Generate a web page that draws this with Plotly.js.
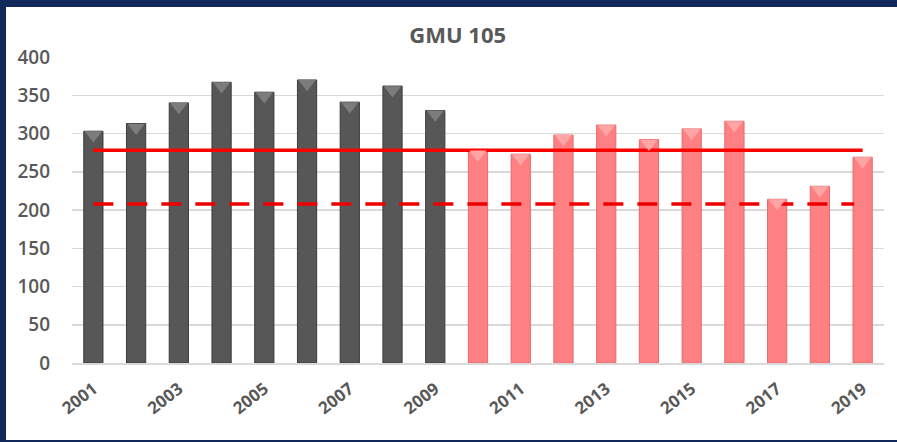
<!DOCTYPE html>
<html>
<head>
<meta charset="utf-8">
<script src="https://cdn.plot.ly/plotly-3.0.1.min.js"></script>
<style>
  html, body { margin: 0; padding: 0; background: #10295a; width: 897px; height: 442px; overflow: hidden; }
  #chart { position: absolute; left: 6px; top: 7px; width: 891px; height: 433px; background: #ffffff; }
</style>
</head>
<body>
<div id="chart"></div>
<script>
const years = [2001,2002,2003,2004,2005,2006,2007,2008,2009,2010,2011,2012,2013,2014,2015,2016,2017,2018,2019];
const counts = [303,313,340,367,354,370,341,362,330,278,273,298,311,292,306,316,214,231,269];
const periodSplit = 2010; // bars from this year on are drawn pink
const meanLine = 278;     // solid red line
const lowerLine = 208;    // dashed red line
const tickYears = [2001,2003,2005,2007,2009,2011,2013,2015,2017,2019];

const barColors = years.map(y => y < periodSplit ? '#575757' : '#ff8082');
const edgeColors = years.map(y => y < periodSplit ? '#3c3c3c' : '#e86a6c');
const capColors = years.map(y => y < periodSplit ? '#7c7c7c' : '#ffa5a6');

const data = [
  {
    type: 'bar', x: years, y: counts,
    marker: { color: barColors, line: { color: edgeColors, width: 1 } },
    hoverinfo: 'x+y', showlegend: false
  },
  {
    // bevelled cap on each bar top (drawn on a slightly shifted overlay axis)
    type: 'scatter', mode: 'markers', x: years, y: counts, yaxis: 'y2',
    marker: { symbol: 'triangle-down', size: 15, color: capColors, line: { width: 0 } },
    hoverinfo: 'skip', showlegend: false
  },
  {
    type: 'scatter', mode: 'lines',
    x: [years[0], years[years.length - 1]], y: [meanLine, meanLine],
    line: { color: '#ff0000', width: 3.5 }, showlegend: false
  },
  {
    type: 'scatter', mode: 'lines',
    x: [years[0], years[years.length - 1] - 0.2], y: [lowerLine, lowerLine],
    line: { color: '#ee0000', width: 3.5, dash: '20px,14px' }, showlegend: false
  }
];

const layout = {
  width: 891, height: 433,
  margin: { l: 66, r: 13, t: 50, b: 77 },
  paper_bgcolor: '#ffffff', plot_bgcolor: '#ffffff',
  bargap: 0.55,
  title: { text: '<b>GMU 105</b>', x: 0.507, xanchor: 'center', y: 0.935, yanchor: 'middle',
           font: { family: 'Open Sans, sans-serif', size: 22, color: '#595959' } },
  font: { family: 'Open Sans, sans-serif', color: '#595959' },
  xaxis: {
    range: [2000.5, 2019.5], tickvals: tickYears, ticktext: tickYears.map(String),
    tickangle: -38, showgrid: false, zeroline: false,
    showline: true, linecolor: '#d9d9d9', linewidth: 1.5, ticks: '', ticklabelstandoff: 8,
    tickfont: { size: 17, color: '#595959', weight: 700 }
  },
  yaxis: {
    range: [0, 400], dtick: 50, tick0: 0,
    showgrid: true, gridcolor: '#d9d9d9', gridwidth: 1.5, zeroline: false,
    showline: false, ticks: '', ticklabelstandoff: 21,
    tickfont: { size: 19, color: '#595959', weight: 600 }
  },
  yaxis2: {
    overlaying: 'y', range: [5, 405], visible: false, fixedrange: true
  }
};

Plotly.newPlot('chart', data, layout, { staticPlot: true, displayModeBar: false });
</script>
</body>
</html>
